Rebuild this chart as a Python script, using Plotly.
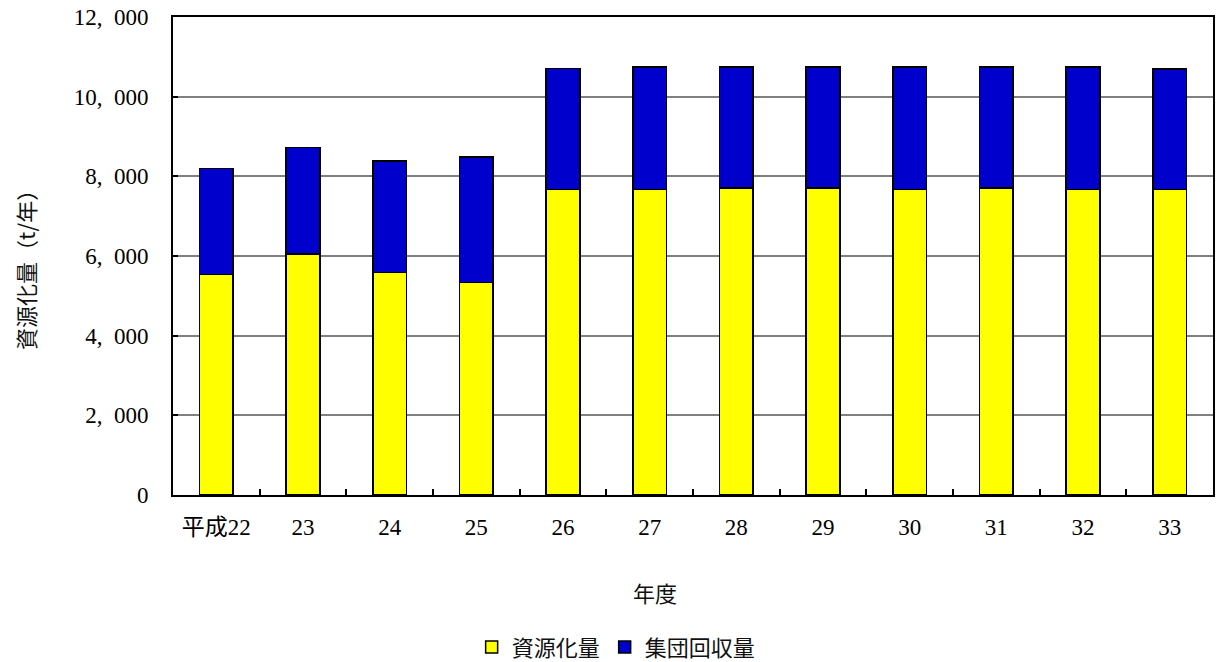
import plotly.graph_objects as go

categories = ["平成22", "23", "24", "25", "26", "27", "28", "29", "30", "31", "32", "33"]
shigenka = [5535, 6055, 5585, 5333, 7673, 7673, 7706, 7706, 7665, 7706, 7665, 7673]
shudan = [2660, 2667, 2800, 3153, 3037, 3077, 3044, 3044, 3085, 3044, 3085, 3027]
ytick_vals = [0, 2000, 4000, 6000, 8000, 10000, 12000]
ytick_text = ["0", "2,\u2002000", "4,\u2002000", "6,\u2002000", "8,\u2002000", "10,\u2002000", "12,\u2002000"]

FONT = "Liberation Serif, Noto Sans CJK JP"
CJK = "Noto Sans CJK JP"

# vertical compensation for the capture
SY = 0.986
W, H = 1218, round(662 / SY)
PL, PR = 173, 1215
PT, PB = 17 / SY, 494 / SY
L, R, T, B = PL, W - PR, round(PT), round(H - PB)
pw = W - L - R
ph = H - T - B


def px_x(x):
    return (x - PL) / pw


def px_y(y):
    return (H - B - y / SY) / ph


fig = go.Figure()
fig.add_trace(go.Bar(name="資源化量", x=categories, y=shigenka,
                     marker=dict(color="#FFFF00", line=dict(color="black", width=1.5))))
fig.add_trace(go.Bar(name="集団回収量", x=categories, y=shudan,
                     marker=dict(color="#0000CC", line=dict(color="black", width=1.5))))

fig.update_layout(
    width=W, height=H,
    barmode="stack", bargap=0.61,
    paper_bgcolor="white", plot_bgcolor="white",
    margin=dict(l=L, r=R, t=T, b=B),
    font=dict(family=FONT, size=22, color="black"),
    showlegend=True,
    legend=dict(orientation="h", x=px_x(617), xref="paper", xanchor="center", y=px_y(625), yanchor="top",
                font=dict(family=CJK, size=22, color="#111111"), itemwidth=30,
                traceorder="normal"),
    xaxis=dict(
        type="category", showline=True, linecolor="black", linewidth=2, mirror=True,
        ticks="inside", tickson="boundaries", ticklen=6, tickcolor="black", tickwidth=2,
        showgrid=False, tickfont=dict(family=FONT, size=23), ticklabelstandoff=10,
    ),
    yaxis=dict(
        range=[0, 12000], tickvals=ytick_vals, ticktext=ytick_text,
        showline=True, linecolor="black", linewidth=2, mirror=True,
        ticks="inside", ticklen=5, tickcolor="black", tickwidth=2,
        showgrid=True, gridcolor="#808080", gridwidth=1.5,
        tickfont=dict(family=FONT, size=23), ticklabelstandoff=18,
    ),
    annotations=[
        dict(text="年度", x=px_x(656), xref="paper", y=px_y(591), yref="paper",
             showarrow=False, xanchor="center", yanchor="middle",
             font=dict(family=CJK, size=22, color="#111111")),
        dict(text="資源化量（t/年）", x=px_x(24), xref="paper", y=px_y(264), yref="paper",
             showarrow=False, xanchor="center", yanchor="middle", textangle=-90,
             font=dict(family=CJK, size=22, color="#111111")),
    ],
)

fig.write_html("out.html", config={"responsive": False, "displayModeBar": False},
               post_script="document.body.style.margin='0';document.body.style.padding='0';"
                           "document.body.style.overflow='hidden';document.documentElement.style.overflow='hidden';")
